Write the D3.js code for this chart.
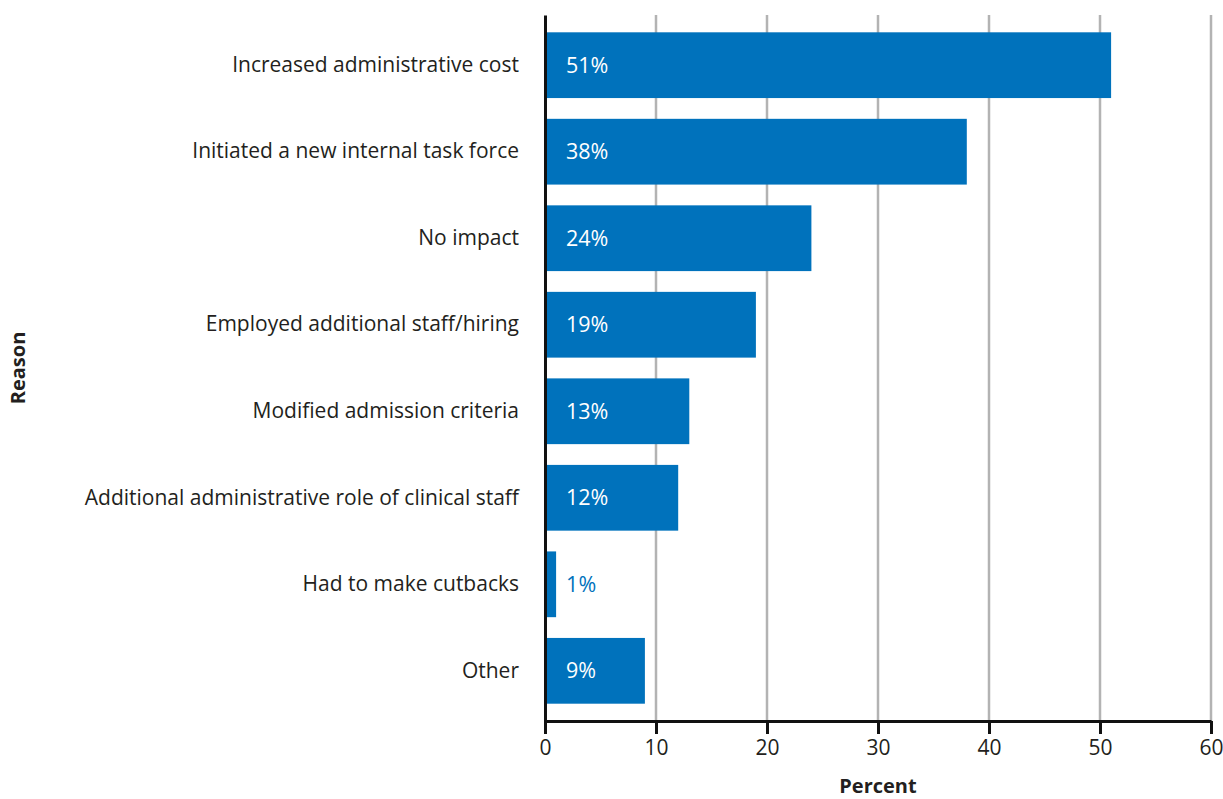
<!DOCTYPE html>
<html>
<head>
<meta charset="utf-8">
<script src="https://cdn.jsdelivr.net/npm/d3@7"></script>
<style>
  body { margin: 0; background: #fff; }
  text { font-family: "Open Sans", "Noto Sans", sans-serif; fill: #231f20; }
</style>
</head>
<body>
<svg id="chart" width="1223" height="799"></svg>
<script>
const categories = [
  "Increased administrative cost",
  "Initiated a new internal task force",
  "No impact",
  "Employed additional staff/hiring",
  "Modified admission criteria",
  "Additional administrative role of clinical staff",
  "Had to make cutbacks",
  "Other"
];
const values = [51, 38, 24, 19, 13, 12, 1, 9];
const xTicks = [0, 10, 20, 30, 40, 50, 60];
const xTitle = "Percent";
const yTitle = "Reason";

const svg = d3.select("#chart");
const margin = { left: 545, right: 12, top: 15, bottom: 78 };
const W = 1223, H = 799;
const x = d3.scaleLinear().domain([0, 60]).range([margin.left, W - margin.right]);
const y = d3.scaleBand().domain(categories).range([margin.top, H - margin.bottom])
  .paddingInner(0.24).paddingOuter(0.2);
const blue = "#0072bc";

// gridlines
svg.append("g").selectAll("line").data(xTicks.filter(d => d > 0)).join("line")
  .attr("x1", d => x(d)).attr("x2", d => x(d))
  .attr("y1", margin.top).attr("y2", H - margin.bottom)
  .attr("stroke", "#b3b3b3").attr("stroke-width", 2.5);

// bars
svg.append("g").selectAll("rect").data(categories).join("rect")
  .attr("x", x(0)).attr("y", d => y(d))
  .attr("width", (d, i) => x(values[i]) - x(0))
  .attr("height", y.bandwidth())
  .attr("fill", blue);

// value labels
svg.append("g").selectAll("text").data(categories).join("text")
  .attr("x", (d, i) => values[i] < 5 ? x(values[i]) + 10 : x(0) + 21)
  .attr("y", d => y(d) + y.bandwidth() / 2)
  .attr("dy", "0.35em")
  .style("font-size", "21.5px")
  .style("fill", (d, i) => values[i] < 5 ? blue : "#fff")
  .text((d, i) => values[i] + "%");

// x axis
const xAxis = svg.append("g")
  .attr("transform", `translate(0,${H - margin.bottom})`)
  .call(d3.axisBottom(x).tickValues(xTicks).tickSize(13).tickPadding(6).tickSizeOuter(0));
xAxis.select(".domain").attr("stroke", "#111").attr("stroke-width", 3);
xAxis.selectAll(".tick line").attr("stroke", "#111").attr("stroke-width", 3);
xAxis.selectAll(".tick text").style("font-size", "21px").style("font-family", "Open Sans, sans-serif").attr("fill", "#231f20");

// y axis
const yAxis = svg.append("g")
  .attr("transform", `translate(${margin.left},0)`)
  .call(d3.axisLeft(y).tickSize(0).tickPadding(26));
yAxis.select(".domain").attr("stroke", "#111").attr("stroke-width", 3);
yAxis.selectAll(".tick text").style("font-size", "21px").style("font-family", "Open Sans, sans-serif").attr("fill", "#231f20");

// axis titles
svg.append("text").attr("x", (x(0) + x(60)) / 2).attr("y", 793)
  .attr("text-anchor", "middle").style("font-size", "20px").style("font-weight", "bold")
  .text(xTitle);
svg.append("text")
  .attr("transform", `translate(25,${(margin.top + H - margin.bottom) / 2}) rotate(-90)`)
  .attr("text-anchor", "middle").style("font-size", "20px").style("font-weight", "bold")
  .text(yTitle);
</script>
</body>
</html>
